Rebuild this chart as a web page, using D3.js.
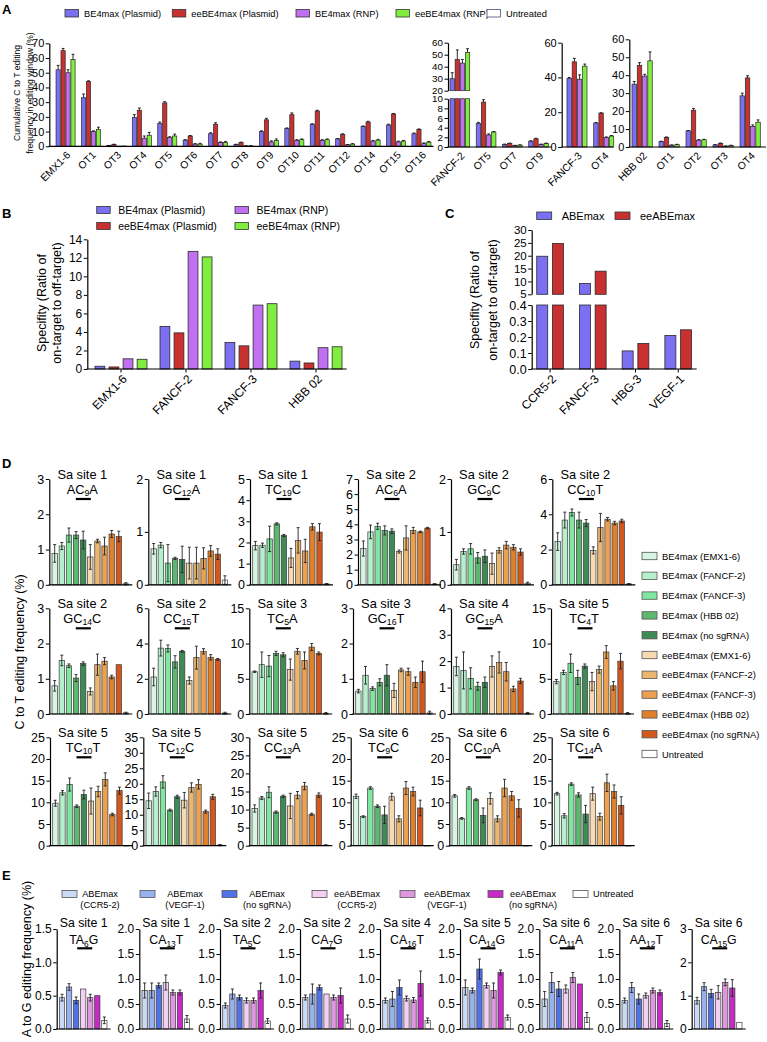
<!DOCTYPE html>
<html><head><meta charset="utf-8">
<script src="https://cdn.jsdelivr.net/npm/d3@7"></script>
<style>body{margin:0;background:#fff}svg{display:block}</style>
</head><body><svg id="chart" width="767" height="1042"></svg>
<script>
// ================= DATA =================
// Panel A
const seriesA = ["BE4max (Plasmid)","eeBE4max (Plasmid)","BE4max (RNP)","eeBE4max (RNP)","Untreated"];
const a1Cats = ["EMX1-6","OT1","OT3","OT4","OT5","OT6","OT7","OT8","OT9","OT10","OT11","OT12","OT14","OT15","OT16"];
const a1Vals = [
  [52,33,0.5,19.5,15.5,4.2,8.5,1.2,10,12,15,5,13.5,14.5,8.5],
  [65,44,1.2,24.5,29.5,7,15,2.5,18,21.5,24,8,16.5,22,11.5],
  [50,10,0.1,5.5,6,1.5,2.5,0.3,3,4,4,1,3.5,3,1.8],
  [59,11.5,0.2,7.5,7,1.5,2.5,0.3,4,4.5,4.5,1.5,4.2,3.5,2.8]];
const a1Errs = [
  [3,2.5,0.1,2,1,0.3,0.7,0.2,0.5,0.5,0.3,0.3,0.3,0.5,0.5],
  [1.5,0.5,0.2,1.5,0.8,0.3,1,0.3,1,1.2,0.5,0.5,0.5,0.3,0.3],
  [2,0.5,0,1.5,0.5,0.3,0.5,0.1,0.7,0.5,0.5,0.2,0.5,0.5,0.5],
  [3.5,1.5,0,2,1.3,0.5,0.8,0.1,1,0.5,0.5,0.3,0.5,0.5,0.5]];
const a2Cats = ["FANCF-2","OT5","OT7","OT9"];
const a2Vals = [[30,4.9,0.5,1.2],[46,9.3,0.7,1.7],[43,2.5,0.3,0.5],[52,3.1,0.4,0.7]];
const a2Errs = [[5,0.2,0.1,0.1],[8,0.5,0.1,0.1],[3,0.2,0.05,0.1],[3,0.1,0.05,0.1]];
const a3Cats = ["FANCF-3","OT4"];
const a3Vals = [[39.5,13.8],[49,19.5],[39,5.5],[46.5,6.3]];
const a3Errs = [[0.5,0.3],[2,0.2],[2.5,0.3],[1.2,0.3]];
const a4Cats = ["HBB 02","OT1","OT2","OT3","OT4"];
const a4Vals = [[35,3,9,1.2,28.5],[45.5,5.3,20.5,2,38.5],[39.5,1,3.8,0.5,11.5],[48,1.3,4,0.8,13.8]];
const a4Errs = [[1.5,0.2,0.2,0.1,1.5],[1.5,0.3,1,0.2,1.2],[1,0.2,0.3,0.1,0.8],[5,0.2,0.3,0.2,1.3]];
const aTicks1 = [0,10,20,30,40,50,60,70];
const aTicks2Low = [0,2,4,6,8,10];
const aTicks2High = [20,30,40,50,60];
const aTicks3 = [0,20,40,60];
const aTicks4 = [0,10,20,30,40,50,60];

// Panel B
const bCats = ["EMX1-6","FANCF-2","FANCF-3","HBB 02"];
const bSeries = ["BE4max (Plasmid)","eeBE4max (Plasmid)","BE4max (RNP)","eeBE4max (RNP)"];
const bVals = [[0.3,4.6,2.85,0.85],[0.22,3.9,2.5,0.65],[1.1,12.7,6.9,2.3],[1.05,12.1,7.05,2.4]];
const bTicks = [0,2,4,6,8,10,12,14];

// Panel C
const cCats = ["CCR5-2","FANCF-3","HBG-3","VEGF-1"];
const cSeries = ["ABEmax","eeABEmax"];
const cVals = [[19.8,9.2,0.113,0.21],[24.8,14,0.16,0.245]];
const cTicksLow = [0,0.1,0.2,0.3,0.4];
const cTicksHigh = [5,10,15,20,25,30];

// Panel D
const dSeries = ["BE4max (EMX1-6)","BE4max (FANCF-2)","BE4max (FANCF-3)","BE4max (HBB 02)","BE4max (no sgRNA)",
  "eeBE4max (EMX1-6)","eeBE4max (FANCF-2)","eeBE4max (FANCF-3)","eeBE4max (HBB 02)","eeBE4max (no sgRNA)","Untreated"];
const dSites = ["Sa site 1","Sa site 1","Sa site 1","Sa site 2","Sa site 2","Sa site 2",
  "Sa site 2","Sa site 2","Sa site 3","Sa site 3","Sa site 4","Sa site 5",
  "Sa site 5","Sa site 5","Sa site 5","Sa site 6","Sa site 6","Sa site 6"];
const dMotifs = [["AC","9","A"],["GC","12","A"],["TC","19","C"],["AC","6","A"],["GC","9","C"],["CC","10","T"],
  ["GC","14","C"],["CC","15","T"],["TC","5","A"],["GC","16","T"],["GC","15","A"],["TC","4","T"],
  ["TC","10","T"],["TC","12","C"],["CC","13","A"],["TC","9","C"],["CC","10","A"],["TC","14","A"]];
const dMax = [3,2,5,7,2,6, 3,6,15,3,4,15, 25,35,30,25,25,25];
const dStep = [1,1,1,1,1,2, 1,2,5,1,1,5, 5,5,5,5,5,5];
const dVals = [
  [0.89,1.1,1.41,1.41,1.27,0.79,1.24,1.1,1.44,1.37,0.03],
  [0.68,0.75,0.41,0.5,0.48,0.41,0.41,0.5,0.64,0.58,0.09],
  [1.85,1.87,2.17,2.88,2.33,1.27,2.1,1.6,2.74,2.49,0.04],
  [2.4,3.5,3.87,3.6,3.55,2.2,3.1,3.6,3.5,3.75,0.05],
  [0.38,0.63,0.68,0.51,0.54,0.4,0.65,0.75,0.71,0.62,0.03],
  [2.45,3.67,4.1,3.67,3.5,1.95,3.25,3.72,3.5,3.62,0.05],
  [0.8,1.52,1.37,1.02,1.43,0.64,1.4,1.5,1.05,1.4,0.03],
  [2.1,3.74,3.72,2.96,3.56,1.9,3.2,3.56,3.22,3.1,0.05],
  [6.0,7.0,6.8,8.6,8.4,6.3,8.9,7.6,9.5,8.6,0.1],
  [0.65,1.1,0.72,0.9,1.1,0.67,1.25,1.2,0.9,1.2,0.03],
  [1.8,1.65,1.35,1.05,1.2,1.8,1.95,1.6,0.95,1.25,0.03],
  [4.6,5.9,7.2,5.2,6.8,4.6,6.3,8.8,4.0,7.5,0.1],
  [9.8,12.2,14.1,9.1,11.8,10.3,12.5,15.3,7.2,12.7,0.05],
  [14.5,17.5,20.6,11.5,15.8,14.7,18.8,19.8,11,15.8,0.2],
  [10.3,13.2,14.8,9.3,13.7,11,14,16.5,8.7,14,0.15],
  [11.4,6.7,13.3,9.1,7.1,11.3,6.2,13.3,12.5,8.7,0.05],
  [11.5,6.3,13.3,10.6,7.0,10.9,6.2,13.3,11.5,8.6,0.05],
  [12,6.9,14.2,11.7,7.3,12,6.7,14.5,12.5,9.3,0.05]];
const dErrs = [
  [0.25,0.1,0.2,0.1,0.25,0.35,0.05,0.25,0.1,0.15,0.03],
  [0.1,0.05,0.35,0.02,0.25,0.3,0.3,0.2,0.1,0.1,0.08],
  [0.2,0.1,0.6,0.05,0.05,0.45,0.6,0.55,0.15,0.4,0.02],
  [0.5,0.45,0.2,0.3,0.15,0.1,0.8,0.2,0.05,0.05,0.02],
  [0.1,0.05,0.1,0.1,0.12,0.2,0.05,0.07,0.05,0.06,0.02],
  [0.5,0.45,0.2,0.45,0.2,0.2,0.8,0.1,0.1,0.1,0.02],
  [0.15,0.15,0.05,0.1,0.05,0.1,0.3,0.1,0.05,0,0.02],
  [0.5,0.45,0.2,0.35,0.05,0.2,0.65,0.15,0.15,0.05,0.05],
  [0.1,1.8,1.5,0.3,0.3,1.5,0.4,1.2,0.5,0.2,0.1],
  [0.05,0.25,0.05,0.1,0.3,0.2,0.05,0.1,0.15,0.3,0.05],
  [0.35,0.7,0.4,0.15,0.2,0.4,0.4,0.35,0.1,0.1,0.03],
  [0.3,0.3,1.3,1,0.3,1.3,0.5,0.9,0.6,1.1,0.1],
  [0.7,0.5,1.5,0.3,1,3,1.2,1.5,0.3,0.8,0],
  [2.5,1.5,2,0.3,0.5,2.5,1.5,1.5,0.5,0.8,0.2],
  [1,0.4,1.5,0.3,0.3,3.5,1,1,0.3,0.6,0.1],
  [0.5,0.2,0.3,0.3,2,0.8,0.7,1.5,1,1.8,0],
  [0.3,0.2,0.3,0.2,1.7,1.3,0.7,2,1,2,0],
  [0.3,0.5,0.3,0.5,2,1.5,0.8,2,1.5,2,0]];

// Panel E
const eSeries = [["ABEmax","(CCR5-2)"],["ABEmax","(VEGF-1)"],["ABEmax","(no sgRNA)"],
  ["eeABEmax","(CCR5-2)"],["eeABEmax","(VEGF-1)"],["eeABEmax","(no sgRNA)"],["Untreated",""]];
const eSites = ["Sa site 1","Sa site 1","Sa site 2","Sa site 2","Sa site 4","Sa site 5","Sa site 6","Sa site 6","Sa site 6"];
const eMotifs = [["TA","6","G"],["CA","13","T"],["TA","5","C"],["CA","7","G"],["CA","16","T"],["CA","14","G"],["CA","11","A"],["AA","12","T"],["CA","15","G"]];
const eMax = [1.5,2,2,2,2,2,2,2,3];
const eStep = [0.5,0.5,0.5,0.5,0.5,0.5,0.5,0.5,1];
const eVals = [
  [0.47,0.63,0.43,0.6,0.47,0.5,0.13],
  [0.77,0.77,0.87,0.93,0.73,0.73,0.2],
  [0.47,0.7,0.63,0.57,0.57,0.77,0.16],
  [0.63,0.7,0.83,0.7,0.63,0.67,0.2],
  [0.57,0.6,0.83,0.61,0.58,0.91,0.17],
  [0.83,0.77,1.2,0.87,0.77,1.13,0.23],
  [0.6,0.93,0.8,0.8,1.03,0.9,0.23],
  [0.57,0.83,0.6,0.67,0.77,0.73,0.11],
  [0.85,1.27,1.07,1.1,1.4,1.23,0.2]];
const eErrs = [
  [0.05,0.05,0.05,0,0.05,0,0.05],
  [0.15,0.15,0.05,0.15,0.05,0.05,0.07],
  [0.05,0.1,0.05,0.05,0.05,0.15,0.05],
  [0.05,0.2,0.05,0,0.05,0.15,0.08],
  [0.05,0.15,0.15,0.05,0.05,0.25,0.05],
  [0.15,0.05,0.2,0.05,0.15,0.05,0.05],
  [0.15,0.2,0.15,0.08,0.1,0,0.1],
  [0.05,0.1,0.1,0.05,0.05,0.05,0.06],
  [0.1,0.12,0.12,0.2,0.1,0.25,0]];

// ================= STYLE =================
const F = "'Liberation Sans', Arial, Helvetica, sans-serif";
const colA = ["#7b70f2","#c93131","#c070f0","#80ee3e","#ffffff"];
const colC = ["#7b70f2","#c93131"];
const colD = ["#d6f6e2","#b4f0cb","#80e6a0","#5db86f","#3f8b55","#f7dab2","#ebb66f","#eca050","#e0802b","#d4581e","#ffffff"];
const colE = ["#c9d9f6","#98b2f0","#5171e8","#f3cff3","#df98e0","#c82ac8","#ffffff"];

const svg = d3.select("#chart");

function addText(g, x, y, str, fs, anchor, weight) {
  return g.append("text").attr("x", x).attr("y", y).attr("font-size", fs).attr("font-family", F)
    .attr("text-anchor", anchor || "start").attr("dominant-baseline", "central")
    .attr("font-weight", weight || "normal").attr("fill", "#000").text(str);
}
function vText(g, x, y, str, fs) {
  return g.append("text").attr("transform", `translate(${x},${y}) rotate(-90)`).attr("font-size", fs)
    .attr("font-family", F).attr("text-anchor", "middle").attr("dominant-baseline", "central").attr("fill", "#000").text(str);
}
function yAxis(g, y, x, ticks, fmt, fs) {
  const ax = g.append("g").attr("transform", `translate(${x},0)`)
    .call(d3.axisLeft(y).tickValues(ticks).tickFormat(fmt).tickSize(3.5).tickSizeOuter(0).tickPadding(1.5));
  ax.select(".domain").attr("stroke", "#000").attr("stroke-width", 1.2);
  ax.selectAll(".tick line").attr("stroke", "#000").attr("stroke-width", 1);
  ax.selectAll(".tick text").attr("font-size", fs).attr("font-family", F).attr("fill", "#000");
  return ax;
}
function errBar(g, cx, y1, y2, cap) {
  g.append("line").attr("x1", cx).attr("x2", cx).attr("y1", y1).attr("y2", y2).attr("stroke", "#111").attr("stroke-width", 0.9);
  g.append("line").attr("x1", cx - cap).attr("x2", cx + cap).attr("y1", y2).attr("y2", y2).attr("stroke", "#111").attr("stroke-width", 0.9);
}

// Grouped (optionally broken-axis) bar chart
function grouped(cfg) {
  const g = svg.append("g");
  const xg = d3.scaleBand(cfg.cats, cfg.range).paddingInner(cfg.pIn).paddingOuter(cfg.pOut);
  const xs = d3.scaleBand(d3.range(cfg.vals.length), [0, xg.bandwidth()]).paddingInner(cfg.subPad);
  cfg.segs.forEach((s, si) => {
    const y = d3.scaleLinear([s.lo, s.hi], [s.yb, s.yt]);
    cfg.vals.forEach((arr, k) => {
      arr.forEach((v, i) => {
        if (v <= s.lo) return;
        const top = Math.min(v, s.hi);
        const bx = xg(cfg.cats[i]) + xs(k);
        g.append("rect").attr("x", bx).attr("y", y(top)).attr("width", xs.bandwidth())
          .attr("height", Math.max(0.6, y(s.lo) - y(top))).attr("fill", cfg.colors[k])
          .attr("stroke", "#2a2a2a").attr("stroke-width", cfg.sw || 0.7);
        if (cfg.errs && v <= s.hi) {
          const e = cfg.errs[k][i];
          if (e > 0) errBar(g, bx + xs.bandwidth() / 2, y(v), y(Math.min(v + e, s.hi)), 1.4);
        }
      });
    });
    yAxis(g, y, cfg.x0, s.ticks, s.fmt || d3.format("d"), s.fs || cfg.tickFs);
  });
  const yb = cfg.segs[0].yb;
  g.append("line").attr("x1", cfg.x0 - 0.6).attr("x2", cfg.x1).attr("y1", yb).attr("y2", yb)
    .attr("stroke", "#000").attr("stroke-width", 1.2);
  cfg.cats.forEach(c => {
    const cx = xg(c) + xg.bandwidth() / 2;
    if (cfg.xticks) g.append("line").attr("x1", cx).attr("x2", cx).attr("y1", yb).attr("y2", yb + 3.5).attr("stroke", "#000");
    g.append("text").attr("transform", `translate(${cx + cfg.lblDx},${yb + cfg.lblDy}) rotate(-45)`)
      .attr("text-anchor", "end").attr("dominant-baseline", "central").attr("font-size", cfg.lblFs)
      .attr("font-family", F).attr("fill", "#000").text(c);
  });
}

// ================= PANEL A =================
const root = svg.append("g");
addText(root, 2, 9, "A", 13, "start", "bold");
addText(root, 2, 213, "B", 13, "start", "bold");
addText(root, 445, 213, "C", 13, "start", "bold");
addText(root, 2, 463, "D", 13, "start", "bold");
addText(root, 2, 875, "E", 13, "start", "bold");

const legAx = [65, 172.3, 296, 396, 487];
seriesA.forEach((s, i) => {
  root.append("rect").attr("x", legAx[i]).attr("y", 9.5).attr("width", 13.5).attr("height", 7.5)
    .attr("fill", colA[i]).attr("stroke", i === 4 ? "#4a4f7a" : "#333").attr("stroke-width", 0.8);
  addText(root, legAx[i] + 19, 13.5, s, 9.3);
});
vText(root, 17, 93, "Cumulative C to T editing", 8.6);
vText(root, 29.5, 93, "frequency in editing window (%)", 8.6);

grouped({cats: a1Cats, vals: a1Vals, errs: a1Errs, colors: colA, range: [53.5, 433.5], pIn: 0.25, pOut: 0.1, subPad: 0.15,
  x0: 49.3, x1: 433.5, segs: [{lo: 0, hi: 70, yb: 146.3, yt: 43.3, ticks: aTicks1}], tickFs: 11, lblFs: 10.3, lblDx: 3, lblDy: 7});
grouped({cats: a2Cats, vals: a2Vals, errs: a2Errs, colors: colA, range: [447.4, 551], pIn: 0.25, pOut: 0.1, subPad: 0.15,
  x0: 448, x1: 551.7, segs: [{lo: 0, hi: 10, yb: 147, yt: 98.7, ticks: aTicks2Low, fs: 9.8}, {lo: 20, hi: 60, yb: 90.7, yt: 42.7, ticks: aTicks2High, fs: 9.8}],
  tickFs: 11, lblFs: 10.3, lblDx: 3, lblDy: 7});
grouped({cats: a3Cats, vals: a3Vals, errs: a3Errs, colors: colA, range: [564.3, 616.4], pIn: 0.25, pOut: 0.1, subPad: 0.15,
  x0: 561.7, x1: 613.3, segs: [{lo: 0, hi: 60, yb: 147, yt: 42.7, ticks: aTicks3}], tickFs: 11, lblFs: 10.3, lblDx: 3, lblDy: 7});
grouped({cats: a4Cats, vals: a4Vals, errs: a4Errs, colors: colA, range: [629.3, 763], pIn: 0.25, pOut: 0.1, subPad: 0.15,
  x0: 629.3, x1: 766, segs: [{lo: 0, hi: 60, yb: 147, yt: 39.3, ticks: aTicks4}], tickFs: 11, lblFs: 10.3, lblDx: 3, lblDy: 7});

// ================= PANEL B =================
const legB = [[96.7, 210], [96.7, 226], [235, 210], [235, 226]];
bSeries.forEach((s, i) => {
  root.append("rect").attr("x", legB[i][0]).attr("y", legB[i][1] - 3.5).attr("width", 13.5).attr("height", 7)
    .attr("fill", colA[i]).attr("stroke", "#333").attr("stroke-width", 0.8);
  addText(root, legB[i][0] + 21.5, legB[i][1], s, 10.5);
});
vText(root, 42, 303, "Specifity (Ratio of", 12.5);
vText(root, 57, 303, "on-target to off-target)", 12.5);
grouped({cats: bCats, vals: bVals, colors: colA, range: [87.2, 349.8], pIn: 0.2, pOut: 0.12, subPad: 0.3,
  x0: 87.3, x1: 346.7, segs: [{lo: 0, hi: 14, yb: 369, yt: 239.3, ticks: bTicks}], tickFs: 12, lblFs: 12, lblDx: 4, lblDy: 8, xticks: true, sw: 0.8});

// ================= PANEL C =================
const legC = [536.7, 615];
cSeries.forEach((s, i) => {
  root.append("rect").attr("x", legC[i]).attr("y", 212).attr("width", 15).attr("height", 7.5)
    .attr("fill", colC[i]).attr("stroke", "#333").attr("stroke-width", 0.8);
  addText(root, legC[i] + 25, 215.7, s, 11);
});
vText(root, 475, 300, "Specifity (Ratio of", 12.5);
vText(root, 493, 300, "on-target to off-target)", 12.5);
grouped({cats: cCats, vals: cVals, colors: colC, range: [531.6, 696.7], pIn: 0.375, pOut: 0.12, subPad: 0.3,
  x0: 531.7, x1: 696.7,
  segs: [{lo: 0, hi: 0.4, yb: 369, yt: 305, ticks: cTicksLow, fmt: d3.format(".1f")}, {lo: 5, hi: 30, yb: 294.3, yt: 230, ticks: cTicksHigh, fs: 11.5}],
  tickFs: 12.5, lblFs: 12, lblDx: 4, lblDy: 8, xticks: true, sw: 0.8});

// ================= small plots (D, E) =================
function smallPlot(o) {
  const g = svg.append("g");
  const y = d3.scaleLinear([0, o.max], [o.bot, o.top]);
  const x = d3.scaleBand(d3.range(o.vals.length), [o.ax + 2, o.ax + o.w - 3]).paddingInner(0.25).paddingOuter(0.1);
  o.vals.forEach((v, i) => {
    g.append("rect").attr("x", x(i)).attr("y", y(v)).attr("width", x.bandwidth()).attr("height", Math.max(0.5, y(0) - y(v)))
      .attr("fill", o.colors[i]).attr("stroke", "#3a3a3a").attr("stroke-width", 0.7);
  });
  o.vals.forEach((v, i) => {
    const e = o.errs[i];
    if (!e) return;
    const cx = x(i) + x.bandwidth() / 2;
    const y1 = y(Math.max(0, v - e)), y2 = y(Math.min(o.max, v + e));
    g.append("line").attr("x1", cx).attr("x2", cx).attr("y1", y1).attr("y2", y2).attr("stroke", "#222").attr("stroke-width", 0.9);
    [y1, y2].forEach(yy => g.append("line").attr("x1", cx - 1.5).attr("x2", cx + 1.5).attr("y1", yy).attr("y2", yy)
      .attr("stroke", "#222").attr("stroke-width", 0.9));
  });
  yAxis(g, y, o.ax, d3.range(0, o.max + o.step / 2, o.step), o.fmt, o.fs);
  g.append("line").attr("x1", o.ax - 0.6).attr("x2", o.ax + o.w).attr("y1", o.bot).attr("y2", o.bot)
    .attr("stroke", "#000").attr("stroke-width", 1.2);
  const tx = o.ax + o.tdx;
  addText(g, tx, o.top + o.t1, o.site, o.tfs, "middle");
  const t2 = g.append("text").attr("x", tx).attr("y", o.top + o.t2).attr("text-anchor", "middle")
    .attr("dominant-baseline", "central").attr("font-size", o.tfs).attr("font-family", F).attr("fill", "#000");
  t2.append("tspan").text(o.motif[0]);
  t2.append("tspan").attr("font-size", o.tfs * 0.68).attr("dy", 3.5).text(o.motif[1]);
  t2.append("tspan").attr("dy", -3.5).text(o.motif[2]);
  g.append("rect").attr("x", tx - 6.5).attr("y", o.top + o.ul - 1.1).attr("width", 15).attr("height", 2.2).attr("fill", "#000");
}

// ================= PANEL D =================
const dTop = [479, 608.3, 737.3];
const dBot = [584.8, 714, 845.7];
const dAx = [[49.3, 148.3, 250, 358, 451, 552.3], [49.3, 148.3, 249.3, 353, 451, 551], [50, 143.3, 249.3, 350.7, 449.3, 551.7]];
dVals.forEach((vals, k) => {
  const r = Math.floor(k / 6), c = k % 6;
  smallPlot({vals, errs: dErrs[k], colors: colD, max: dMax[k], step: dStep[k], fmt: d3.format("d"),
    ax: dAx[r][c], w: 83, top: dTop[r], bot: dBot[r], fs: 12.5, tfs: 12.8, tdx: 33, t1: -4.5, t2: 10, ul: 20,
    site: dSites[k], motif: dMotifs[k]});
});
vText(root, 20, 652, "C to T editing frequency (%)", 12.5);
dSeries.forEach((s, i) => {
  const yy = 556 + i * 19.8;
  root.append("rect").attr("x", 642).attr("y", yy - 3.7).attr("width", 15).attr("height", 7.4)
    .attr("fill", colD[i]).attr("stroke", "#555").attr("stroke-width", 0.8);
  addText(root, 662, yy, s, 9.4);
});

// ================= PANEL E =================
const eAx = [56.7, 139.3, 220, 300, 380, 460, 539.3, 619.3, 691.7];
eVals.forEach((vals, k) => {
  smallPlot({vals, errs: eErrs[k], colors: colE, max: eMax[k], step: eStep[k],
    fmt: eMax[k] === 3 ? d3.format("d") : d3.format(".1f"),
    ax: eAx[k], w: 54, top: 929, bot: 1029, fs: 12, tfs: 12.3, tdx: 27, t1: -5.7, t2: 11, ul: 19.3,
    site: eSites[k], motif: eMotifs[k]});
});
vText(root, 26.7, 959, "A to G editing frequency (%)", 12.5);
const eLeg = [[62, 100], [140, 185], [222, 267], [312, 357], [400, 447], [488, 533], [573, 593]];
eSeries.forEach((s, i) => {
  root.append("rect").attr("x", eLeg[i][0]).attr("y", 890.5).attr("width", 15).attr("height", 7)
    .attr("fill", colE[i]).attr("stroke", "#555").attr("stroke-width", 0.8);
  if (i < 6) {
    addText(root, eLeg[i][1], 894, s[0], 9.2, "middle");
    addText(root, eLeg[i][1], 904.5, s[1], 9.2, "middle");
  } else {
    addText(root, eLeg[i][1], 894, s[0], 9.2, "start");
  }
});
</script></body></html>
